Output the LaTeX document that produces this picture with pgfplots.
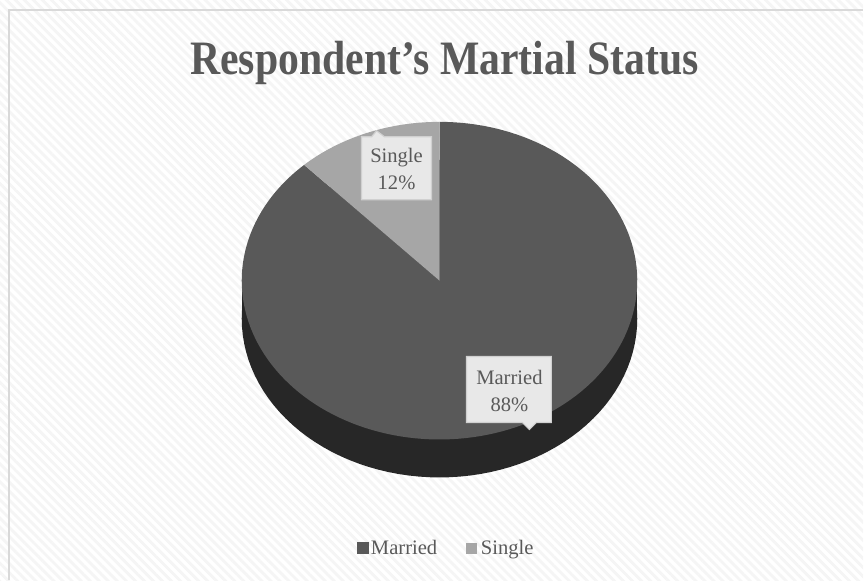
\documentclass[border=0pt]{standalone}
\usepackage{fontspec}
\setmainfont{Liberation Serif}
\newfontfamily\titlefont[FakeStretch=0.87]{Liberation Serif}
\usepackage{pgfplots}
\pgfplotsset{compat=1.18}
\usetikzlibrary{patterns.meta}
\definecolor{married}{HTML}{595959}
\definecolor{single}{HTML}{A6A6A6}
\definecolor{side}{HTML}{272727}
\definecolor{txt}{HTML}{595959}
\definecolor{lblbox}{HTML}{E8E8E8}
\definecolor{lblline}{HTML}{D0D0D0}
\def\valMarried{88}
\def\valSingle{12}
\pgfmathsetmacro{\angS}{90+360*\valSingle/100}
\pgfmathsetmacro{\angM}{\angS-360}
\begin{document}
\begin{tikzpicture}
\begin{axis}[xmin=0,xmax=864,ymin=0,ymax=581,width=432pt,height=290.5pt,
  scale only axis,hide axis,clip=false]
\fill[white] (axis cs:0,0) rectangle (axis cs:864,581);
\fill[pattern={Lines[angle=-45,distance=3.2pt,line width=1.4pt]},pattern color=black!4] (axis cs:0,0) rectangle (axis cs:864,581);
\draw[line width=1pt, color=black!15] (axis cs:9,0) -- (axis cs:9,571) -- (axis cs:864,571);
% side of the pie
\addplot[draw=none, fill=side, domain=0:360, samples=121, variable=\t] ({440+198*cos(\t)},{262+159*sin(\t)});
\addplot[draw=none, fill=side] coordinates {(242,262) (638,262) (638,300) (242,300)} -- cycle;
% slices
\addplot[draw=none, fill=married, domain=\angM:90, samples=150, variable=\t] ({440+198*cos(\t)},{300+159*sin(\t)}) -- (axis cs:440,300) -- cycle;
\addplot[draw=none, fill=single, domain=90:\angS, samples=30, variable=\t] ({440+198*cos(\t)},{300+159*sin(\t)}) -- (axis cs:440,300) -- cycle;
% title
\node[anchor=base, text=txt, font=\titlefont\fontsize{24}{28}\selectfont\bfseries] at (axis cs:445,506) {Respondent’s Martial Status};
% data labels
\draw[fill=lblbox, draw=lblline, line width=0.6pt] (axis cs:362,381) -- (axis cs:362,444) -- (axis cs:372,444) -- (axis cs:377,450) -- (axis cs:385,444) -- (axis cs:432,444) -- (axis cs:432,381) -- cycle;
\node[anchor=base, text=txt, font=\fontsize{10.3}{12}\selectfont] at (axis cs:397,418) {Single};
\node[anchor=base, text=txt, font=\fontsize{10.3}{12}\selectfont] at (axis cs:397,391) {\valSingle\%};
\draw[fill=lblbox, draw=lblline, line width=0.6pt] (axis cs:467,224) -- (axis cs:467,158) -- (axis cs:523,158) -- (axis cs:530,151) -- (axis cs:537,158) -- (axis cs:552,158) -- (axis cs:552,224) -- cycle;
\node[anchor=base, text=txt, font=\fontsize{10.3}{12}\selectfont] at (axis cs:510,196) {Married};
\node[anchor=base, text=txt, font=\fontsize{10.3}{12}\selectfont] at (axis cs:510,169) {\valMarried\%};
% legend
\fill[married] (axis cs:357,26) rectangle (axis cs:369,38);
\node[anchor=base west, inner sep=0pt, text=txt, font=\fontsize{10.3}{12}\selectfont] at (axis cs:371,26) {Married};
\fill[single] (axis cs:467,26) rectangle (axis cs:478,37);
\node[anchor=base west, inner sep=0pt, text=txt, font=\fontsize{10.3}{12}\selectfont] at (axis cs:481,26) {Single};
\end{axis}
\end{tikzpicture}
\end{document}
